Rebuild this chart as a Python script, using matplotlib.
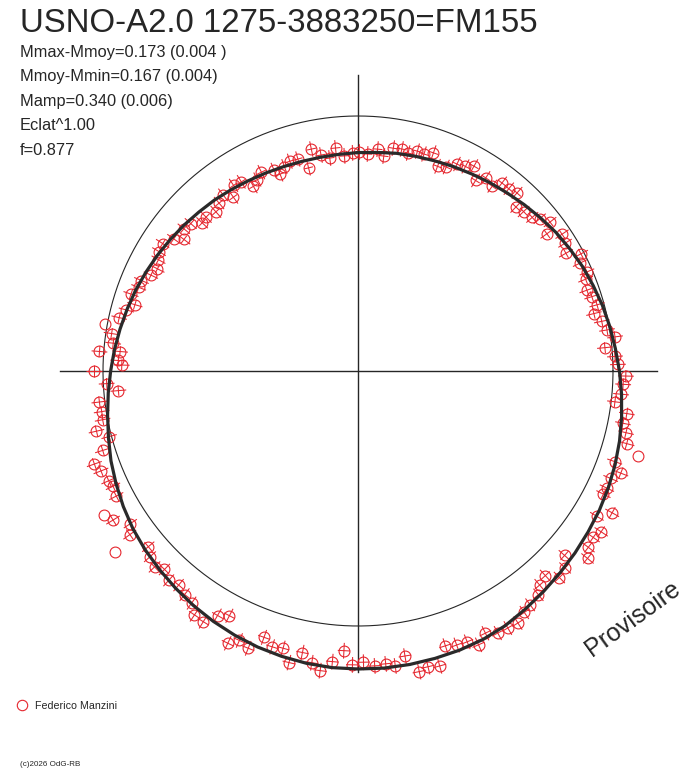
import numpy as np
import matplotlib
matplotlib.use("Agg")
import matplotlib.pyplot as plt
from matplotlib.collections import LineCollection
from matplotlib.lines import Line2D

plt.rcParams['font.family'] = ['Liberation Sans', 'DejaVu Sans']

# observations: phase (0 at top, clockwise) and magnitude offset (bigger = further out)
phase = [
    0.937, 0.940, 0.945, 0.950, 0.956, 0.962, 0.967, 0.973, 0.979, 0.984, 0.990, 0.996,
    0.001, 0.007, 0.014, 0.019, 0.025, 0.031, 0.036, 0.042, 0.047, 0.053, 0.059, 0.065, 0.071, 0.077,
    0.082, 0.088, 0.093, 0.100, 0.104, 0.110, 0.116, 0.122, 0.128, 0.135, 0.139, 0.145, 0.150, 0.156,
    0.162, 0.168, 0.173, 0.178, 0.185, 0.189, 0.196, 0.201, 0.207, 0.212, 0.218, 0.224, 0.229,
    0.235, 0.241, 0.246, 0.253, 0.258, 0.264, 0.269, 0.275, 0.281, 0.286, 0.292, 0.297, 0.304, 0.309,
    0.314, 0.320, 0.324,
    0.331, 0.337, 0.343, 0.348, 0.354, 0.359, 0.366, 0.371, 0.377, 0.382, 0.388, 0.392, 0.399, 0.404,
    0.410, 0.416, 0.422, 0.428, 0.434, 0.439, 0.445,
    0.451, 0.457, 0.463, 0.468, 0.474, 0.480, 0.485, 0.491, 0.497, 0.503, 0.508, 0.514, 0.520, 0.525,
    0.531, 0.537, 0.542,
    0.548, 0.554, 0.560, 0.566, 0.571, 0.577, 0.583, 0.588, 0.594, 0.599, 0.605, 0.611, 0.617, 0.623,
    0.628, 0.634, 0.639, 0.648, 0.651, 0.656, 0.663, 0.668, 0.674, 0.680,
    0.684, 0.691, 0.696, 0.702, 0.709, 0.714, 0.720, 0.725, 0.731, 0.737, 0.742, 0.750, 0.754, 0.757,
    0.762, 0.763, 0.768, 0.774, 0.779, 0.785, 0.791, 0.796,
    0.802, 0.808, 0.813, 0.819, 0.825, 0.831, 0.836, 0.842, 0.849, 0.853, 0.859, 0.865, 0.871, 0.876,
    0.884, 0.890, 0.896, 0.901, 0.906, 0.912, 0.918, 0.923, 0.928,
]
dmag = [
    -0.156, -0.181, -0.158, -0.144, -0.145, -0.192, -0.118, -0.150, -0.168, -0.129, -0.165, -0.154,
    -0.151, -0.158, -0.135, -0.161, -0.123, -0.120, -0.131, -0.114, -0.118, -0.101, -0.148, -0.137, -0.107, -0.100,
    -0.082, -0.130, -0.098, -0.111, -0.076, -0.077, -0.068, -0.114, -0.105, -0.095, -0.075, -0.050, -0.090, -0.039,
    -0.049, -0.067, -0.013, -0.034, -0.023, -0.040, -0.051, -0.040, -0.029, -0.051, -0.026, -0.011, 0.018,
    -0.029, 0.010, 0.021, 0.054, 0.044, 0.038, 0.016, 0.072, 0.063, 0.084, 0.098, 0.159, 0.072, 0.113,
    0.082, 0.084, 0.082,
    0.151, 0.103, 0.153, 0.139, 0.147, 0.173, 0.092, 0.129, 0.140, 0.094, 0.108, 0.136, 0.148, 0.160,
    0.182, 0.178, 0.176, 0.153, 0.185, 0.155, 0.152,
    0.140, 0.214, 0.205, 0.217, 0.142, 0.177, 0.164, 0.169, 0.152, 0.163, 0.105, 0.154, 0.197, 0.169,
    0.134, 0.187, 0.135,
    0.142, 0.115, 0.181, 0.165, 0.196, 0.090, 0.113, 0.166, 0.162, 0.128, 0.117, 0.102, 0.114, 0.093,
    0.115, 0.100, 0.078, 0.200, 0.108, 0.080, 0.133, 0.153, 0.072, 0.066,
    0.073, 0.087, 0.103, 0.052, 0.010, 0.056, 0.021, 0.019, 0.023, -0.061, -0.014, 0.038, -0.078, -0.063,
    0.018, -0.068, -0.036, -0.024, 0.010, -0.043, -0.065, -0.093,
    -0.064, -0.085, -0.085, -0.112, -0.125, -0.111, -0.096, -0.091, -0.118, -0.154, -0.126, -0.134, -0.167, -0.162,
    -0.174, -0.155, -0.139, -0.172, -0.132, -0.137, -0.179, -0.162, -0.142,
]
mag_err = 0.033
phase_err = 0.0035
no_err_phase = [0.297, 0.648, 0.668, 0.779]

# fitted light curve, one value every 1/72 of phase
fit_dm = [-0.153, -0.149, -0.142, -0.137, -0.131, -0.123, -0.115, -0.105, -0.095, -0.083,
          -0.070, -0.056, -0.044, -0.031, -0.020, -0.008, 0.003, 0.014, 0.027, 0.040,
          0.053, 0.066, 0.078, 0.089, 0.099, 0.108, 0.118, 0.128, 0.139, 0.151,
          0.164, 0.172, 0.176, 0.178, 0.180, 0.181, 0.180, 0.179, 0.175, 0.169,
          0.162, 0.153, 0.143, 0.132, 0.120, 0.108, 0.096, 0.083, 0.067, 0.050,
          0.033, 0.014, -0.003, -0.018, -0.032, -0.044, -0.056, -0.067, -0.077, -0.088,
          -0.098, -0.108, -0.117, -0.126, -0.133, -0.141, -0.148, -0.153, -0.157, -0.159,
          -0.159, -0.157]

title = "USNO-A2.0 1275-3883250=FM155"
info = ["Mmax-Mmoy=0.173 (0.004 )", "Mmoy-Mmin=0.167 (0.004)", "Mamp=0.340 (0.006)",
        "Eclat^1.00", "f=0.877"]
observer = "Federico Manzini"

RED = '#e5262e'
INK = '#262626'
UNIT_PER_MAG = 0.937


def to_xy(ph, dm):
    th = np.deg2rad(90 - 360 * np.asarray(ph))
    r = 1 + np.asarray(dm) * UNIT_PER_MAG
    return r * np.cos(th), r * np.sin(th), th, r


fig = plt.figure(figsize=(6.88, 7.68), dpi=100)
ax = fig.add_axes([0, 0, 1, 1])
ax.set_xlim(-358 / 255, 330 / 255)
ax.set_ylim(-397 / 255, 371 / 255)
ax.axis('off')

# reference circle and axes cross
t = np.linspace(0, 2 * np.pi, 400)
ax.plot(np.cos(t), np.sin(t), color=INK, lw=0.8, zorder=1)
ax.plot([-1.169, 1.173], [0, 0], color=INK, lw=1.0, zorder=1)
ax.plot([0, 0], [-1.18, 1.161], color=INK, lw=1.0, zorder=1)

# observations with radial / tangential error bars
x, y, th, r = to_xy(phase, dmag)
has_err = ~np.isin(np.round(phase, 3), no_err_phase)
e = mag_err * UNIT_PER_MAG
dth = 2 * np.pi * phase_err
segs = []
for ti, ri, he in zip(th, r, has_err):
    if not he:
        continue
    segs.append([((ri - e) * np.cos(ti), (ri - e) * np.sin(ti)),
                 ((ri + e) * np.cos(ti), (ri + e) * np.sin(ti))])
    segs.append([(ri * np.cos(ti - dth), ri * np.sin(ti - dth)),
                 (ri * np.cos(ti + dth), ri * np.sin(ti + dth))])
ax.add_collection(LineCollection(segs, colors=RED, linewidths=0.75, zorder=2))
ax.plot(x, y, 'o', ms=7.8, mfc='none', mec=RED, mew=0.8, zorder=3)

# fitted curve
fit_phase = np.arange(len(fit_dm)) / len(fit_dm)
fx, fy, _, _ = to_xy(np.append(fit_phase, 1.0), np.append(fit_dm, fit_dm[0]))
ax.plot(fx, fy, color='#2a2a2a', lw=2.3, zorder=4)

# texts
fig.text(20 / 688, 1 - 32 / 768, title, fontsize=23.8, color=INK, va='baseline')
for i, s in enumerate(info):
    fig.text(20 / 688, 1 - (57 + 24.5 * i) / 768, s, fontsize=11.8, color=INK, va='baseline')

fig.text(592 / 688, 1 - 657 / 768, "Provisoire", fontsize=18, color=INK, rotation=36,
         rotation_mode='anchor', ha='left', va='baseline')

fig.add_artist(Line2D([22 / 688], [1 - 705 / 768], marker='o', ms=7.5, mfc='none',
                      mec=RED, mew=0.8, transform=fig.transFigure))
fig.text(35 / 688, 1 - 709 / 768, observer, fontsize=7.7, color=INK, va='baseline')
fig.text(20 / 688, 1 - 766 / 768, "(c)2026 OdG-RB", fontsize=5.8, color=INK, va='baseline')

fig.savefig("out.png", dpi=100)
